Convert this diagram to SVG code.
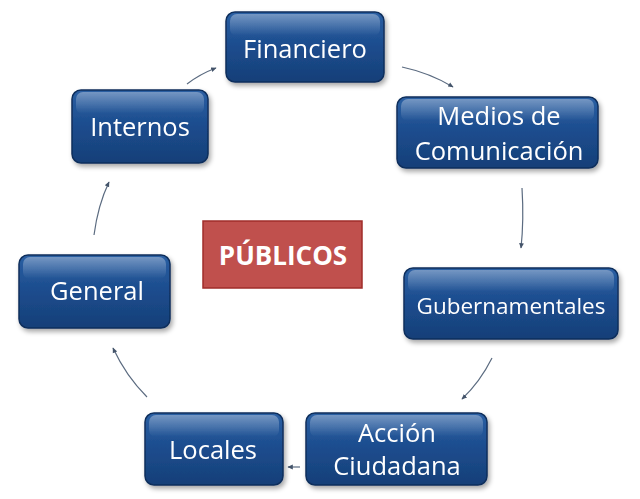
<svg xmlns="http://www.w3.org/2000/svg" width="640" height="499" viewBox="0 0 640 499">
<defs>
<linearGradient id="bg" x1="0" y1="0" x2="0" y2="1">
<stop offset="0" stop-color="#2a5fa3"/>
<stop offset="0.5" stop-color="#1c4c8d"/>
<stop offset="1" stop-color="#163f78"/>
</linearGradient>
<linearGradient id="gloss" x1="0" y1="0" x2="0" y2="1">
<stop offset="0" stop-color="#ffffff" stop-opacity="0.35"/>
<stop offset="1" stop-color="#ffffff" stop-opacity="0"/>
</linearGradient>
<filter id="sh" x="-10%" y="-10%" width="125%" height="130%">
<feGaussianBlur in="SourceAlpha" stdDeviation="2.5"/>
<feOffset dx="2" dy="3"/>
<feComponentTransfer><feFuncA type="linear" slope="0.35"/></feComponentTransfer>
<feMerge><feMergeNode/><feMergeNode in="SourceGraphic"/></feMerge>
</filter>
<marker id="ah" viewBox="0 0 10 10" refX="8" refY="5" markerWidth="5" markerHeight="5" orient="auto">
<path d="M0,1 L9,5 L0,9 z" fill="#44546a"/>
</marker>
</defs>
<style>
.box{fill:url(#bg);stroke:#0f2f5c;stroke-width:1.5}
.gl{fill:url(#gloss)}
.t{font-family:"Open Sans","Liberation Sans",sans-serif;fill:#ffffff;text-anchor:middle;font-size:25.5px}
.c{fill:none;stroke:#5b6b80;stroke-width:1.2;marker-end:url(#ah)}
</style>
<rect width="640" height="499" fill="#ffffff"/>
<g id="connectors">
<path class="c" d="M402,67 Q430,73 453,87"/>
<path class="c" d="M522,188 Q524,220 521,248"/>
<path class="c" d="M492,358 Q480,382 462,399"/>
<path class="c" d="M300,467 L288,467"/>
<path class="c" d="M147,397 Q126,376 113,348"/>
<path class="c" d="M94,235 Q98,205 109,182"/>
<path class="c" d="M187,84 Q200,74 216,68"/>
</g>
<g id="financiero" filter="url(#sh)">
<rect class="box" x="226" y="12" width="158" height="70" rx="9"/>
<rect class="gl" x="230" y="14" width="150" height="22" rx="7"/>
<text class="t" x="305" y="58">Financiero</text>
</g>
<g id="medios" filter="url(#sh)">
<rect class="box" x="397" y="97" width="201" height="71" rx="9"/>
<rect class="gl" x="401" y="99" width="193" height="22" rx="7"/>
<text class="t" x="499" y="125">Medios de</text>
<text class="t" x="499" y="160">Comunicación</text>
</g>
<g id="gubernamentales" filter="url(#sh)">
<rect class="box" x="404" y="268" width="214" height="71" rx="9"/>
<rect class="gl" x="408" y="270" width="206" height="22" rx="7"/>
<text class="t" x="511" y="314" style="font-size:22.5px">Gubernamentales</text>
</g>
<g id="accion" filter="url(#sh)">
<rect class="box" x="306" y="413" width="181" height="72" rx="9"/>
<rect class="gl" x="310" y="415" width="173" height="22" rx="7"/>
<text class="t" x="397" y="442">Acción</text>
<text class="t" x="397" y="475">Ciudadana</text>
</g>
<g id="locales" filter="url(#sh)">
<rect class="box" x="145" y="413" width="138" height="72" rx="9"/>
<rect class="gl" x="149" y="415" width="130" height="22" rx="7"/>
<text class="t" x="213" y="459">Locales</text>
</g>
<g id="general" filter="url(#sh)">
<rect class="box" x="19" y="255" width="151" height="73" rx="9"/>
<rect class="gl" x="23" y="257" width="143" height="22" rx="7"/>
<text class="t" x="97" y="300">General</text>
</g>
<g id="internos" filter="url(#sh)">
<rect class="box" x="72" y="90" width="136" height="73" rx="9"/>
<rect class="gl" x="76" y="92" width="128" height="22" rx="7"/>
<text class="t" x="140" y="136">Internos</text>
</g>
<g id="publicos">
<rect x="203" y="221" width="159" height="67" fill="#c0504d" stroke="#a02c2a" stroke-width="1.5"/>
<text x="283" y="265" style="font-family:'Open Sans','Liberation Sans',sans-serif;font-weight:bold;font-size:26px;fill:#ffffff;text-anchor:middle">PÚBLICOS</text>
</g>
</svg>
